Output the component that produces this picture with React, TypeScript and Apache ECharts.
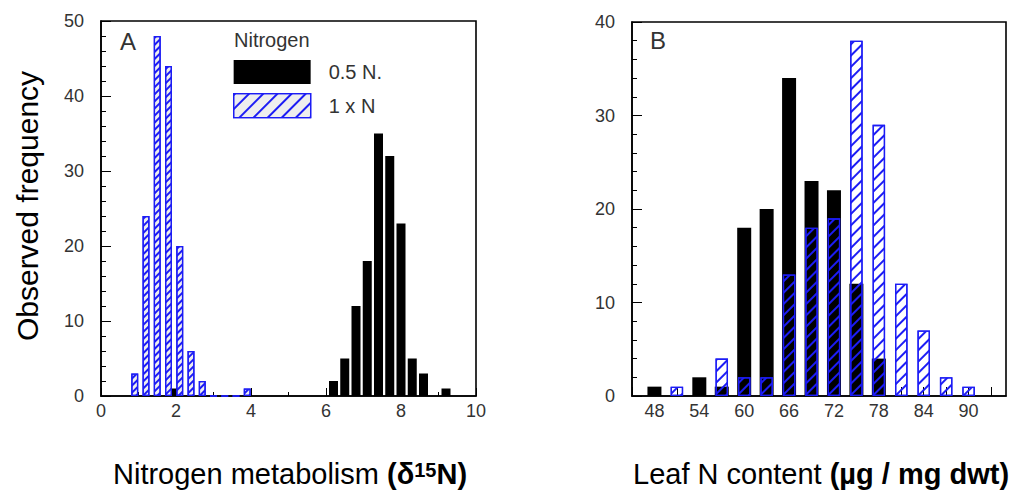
import React, { useEffect, useRef } from "react";
import * as echarts from "echarts";

// Panel A: nitrogen metabolism (delta 15N) histogram
const aBlackX = [2.0, 6.2, 6.5, 6.8, 7.1, 7.4, 7.7, 8.0, 8.3, 8.6, 9.2];
const aBlackY = [1, 2, 5, 12, 18, 35, 32, 23, 5, 3, 1];
const aBlueX = [0.9, 1.2, 1.5, 1.8, 2.1, 2.4, 2.7, 3.0, 3.3, 3.6, 3.9];
const aBlueY = [3, 24, 48, 44, 20, 6, 2, 0, 0, 0, 1];

// Panel B: leaf N content histogram
const bBins = [48, 51, 54, 57, 60, 63, 66, 69, 72, 75, 78, 81, 84, 87, 90];
const bBlack = [1, 0, 2, 1, 18, 20, 34, 23, 22, 12, 4, 0, 0, 0, 0];
const bBlue = [0, 1, 0, 4, 2, 2, 13, 18, 19, 38, 29, 12, 7, 2, 1];

const seriesNames = ["0.5 N.", "1 x N"];
const legendTitle = "Nitrogen";

const FONT = "'Liberation Sans', Arial, Helvetica, sans-serif";
const BLUE = "#1c1cf5";

export default function App() {
  const ref = useRef<HTMLDivElement>(null);
  useEffect(() => {
    if (!ref.current) return;
    const chart = echarts.init(ref.current, undefined, { renderer: "svg" });

    const labelStyle = { color: "#333", fontSize: 18, fontFamily: FONT };
    const axisLine = { show: true, lineStyle: { color: "#000", width: 1.5 } };

    const pairs = (xs: number[], ys: number[]) => xs.map((x, i) => [x, ys[i]]);

    const option: any = {
      animation: false,
      backgroundColor: "#fff",
      grid: [
        { left: 101, top: 21, width: 375, height: 375, show: true, borderColor: "#000", borderWidth: 1.6, backgroundColor: "transparent" },
        { left: 632, top: 22, width: 374, height: 374, show: true, borderColor: "#000", borderWidth: 1.6, backgroundColor: "transparent" },
      ],
      xAxis: [
        {
          type: "value", gridIndex: 0, min: 0, max: 10, interval: 2,
          axisLine,
          axisTick: { show: true, inside: true, length: 8, lineStyle: { color: "#000" } },
          minorTick: { show: true, splitNumber: 2, length: 4, lineStyle: { color: "#000" } },
          splitLine: { show: false },
          axisLabel: { ...labelStyle, margin: 6 },
        },
        { type: "value", gridIndex: 0, min: 0, max: 10, show: false, splitLine: { show: false } },
        {
          type: "value", gridIndex: 1, min: 45, max: 95, interval: 3,
          axisLine,
          axisTick: { show: true, inside: true, length: 9, lineStyle: { color: "#000" } },
          splitLine: { show: false },
          axisLabel: {
            ...labelStyle, margin: 6, showMaxLabel: false,
            formatter: (v: number) => (v >= 48 && v <= 90 && (v - 48) % 6 === 0 ? String(v) : ""),
          },
        },
        { type: "value", gridIndex: 1, min: 45, max: 95, show: false, splitLine: { show: false } },
      ],
      yAxis: [
        {
          type: "value", gridIndex: 0, min: 0, max: 50, interval: 10,
          axisLine,
          axisTick: { show: true, inside: true, length: 10, lineStyle: { color: "#000" } },
          minorTick: { show: true, splitNumber: 5, length: 5, lineStyle: { color: "#000" } },
          splitLine: { show: false },
          axisLabel: { ...labelStyle, margin: 17 },
        },
        {
          type: "value", gridIndex: 1, min: 0, max: 40, interval: 10,
          axisLine,
          axisTick: { show: true, inside: true, length: 10, lineStyle: { color: "#000" } },
          minorTick: { show: true, splitNumber: 5, length: 5, lineStyle: { color: "#000" } },
          splitLine: { show: false },
          axisLabel: { ...labelStyle, margin: 17 },
        },
      ],
      legend: {
        show: true,
        left: 233, top: 60, orient: "vertical", padding: 0,
        itemWidth: 77, itemHeight: 24, itemGap: 9,
        icon: "rect",
        selectedMode: false,
        data: [
          { name: seriesNames[0] },
          {
            name: seriesNames[1],
            itemStyle: {
              color: "#eeeeee", borderColor: BLUE, borderWidth: 1.3,
              decal: {
                symbol: "rect", symbolSize: 1, color: BLUE, backgroundColor: "transparent",
                dashArrayX: [1, 0], dashArrayY: [1.3, 8], rotation: -Math.PI / 4,
              },
            },
          },
        ],
        textStyle: { fontSize: 20, color: "#333", fontFamily: FONT, padding: [0, 0, 0, 13] },
      },
      series: [
        {
          name: seriesNames[0], type: "bar", xAxisIndex: 0, yAxisIndex: 0,
          barWidth: 9, data: pairs(aBlackX, aBlackY),
          itemStyle: { color: "#000" }, z: 2,
        },
        {
          name: seriesNames[1], type: "bar", xAxisIndex: 1, yAxisIndex: 0,
          barWidth: 7, data: pairs(aBlueX, aBlueY), z: 3,
          itemStyle: {
            color: "#eeeeee", borderColor: BLUE, borderWidth: 1.3,
            decal: {
              symbol: "rect", symbolSize: 1, color: BLUE, backgroundColor: "transparent",
              dashArrayX: [1, 0], dashArrayY: [1.2, 3], rotation: -Math.PI / 4,
            },
          },
        },
        {
          name: seriesNames[0], type: "bar", xAxisIndex: 2, yAxisIndex: 1,
          barWidth: 14, data: pairs(bBins, bBlack).filter((p) => p[1] > 0),
          itemStyle: { color: "#000" }, z: 2,
        },
        {
          name: seriesNames[1], type: "bar", xAxisIndex: 3, yAxisIndex: 1,
          barWidth: 12.5, data: pairs(bBins, bBlue).filter((p) => p[1] > 0), z: 3,
          itemStyle: {
            color: "rgba(0,0,0,0)", borderColor: BLUE, borderWidth: 1.3,
            decal: {
              symbol: "rect", symbolSize: 1, color: BLUE, backgroundColor: "transparent",
              dashArrayX: [1, 0], dashArrayY: [1.3, 6], rotation: -Math.PI / 4,
            },
          },
        },
      ],
      graphic: [
        {
          type: "text", x: 27, y: 206, rotation: Math.PI / 2,
          style: {
            text: "Observed frequency", fontSize: 30, fontFamily: FONT, fill: "#000",
            textAlign: "center", textVerticalAlign: "middle",
          },
        },
        {
          type: "text", x: 113, y: 474,
          style: {
            text: "{r|Nitrogen metabolism }{b|(δ}{s|15}{b|N)}",
            fontSize: 29, fontFamily: FONT, fill: "#000",
            textAlign: "left", textVerticalAlign: "middle",
            rich: {
              r: { fontSize: 29, fontFamily: FONT, fill: "#000" },
              b: { fontSize: 29, fontFamily: FONT, fontWeight: "bold", fill: "#000" },
              s: { fontSize: 20, fontFamily: FONT, fontWeight: "bold", fill: "#000", verticalAlign: "top" },
            },
          },
        },
        {
          type: "text", x: 633, y: 474,
          style: {
            text: "{r|Leaf N content }{b|(µg / mg dwt)}",
            fontSize: 29, fontFamily: FONT, fill: "#000",
            textAlign: "left", textVerticalAlign: "middle",
            rich: {
              r: { fontSize: 29, fontFamily: FONT, fill: "#000" },
              b: { fontSize: 29, fontFamily: FONT, fontWeight: "bold", fill: "#000" },
            },
          },
        },
        {
          type: "text", x: 120, y: 41,
          style: { text: "A", fontSize: 24, fontFamily: FONT, fill: "#333", textVerticalAlign: "middle" },
        },
        {
          type: "text", x: 650, y: 40,
          style: { text: "B", fontSize: 24, fontFamily: FONT, fill: "#333", textVerticalAlign: "middle" },
        },
        {
          type: "text", x: 234, y: 40,
          style: { text: legendTitle, fontSize: 20, fontFamily: FONT, fill: "#333", textVerticalAlign: "middle" },
        },
      ],
    };

    chart.setOption(option);
    return () => chart.dispose();
  }, []);

  return (
    <div
      ref={ref}
      style={{ position: "absolute", left: 0, top: 0, width: 1011, height: 491 }}
    />
  );
}
